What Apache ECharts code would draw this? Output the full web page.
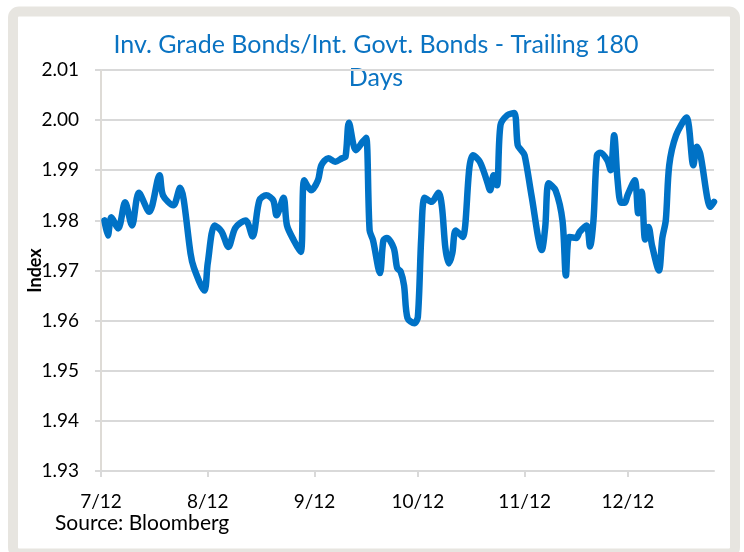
<!DOCTYPE html>
<html>
<head>
<meta charset="utf-8">
<title>Inv. Grade Bonds/Int. Govt. Bonds</title>
<script src="https://cdn.jsdelivr.net/npm/echarts@6/dist/echarts.min.js"></script>
<style>
  html, body { margin: 0; padding: 0; background: #ffffff; }
  #chart { width: 744px; height: 552px; }
</style>
</head>
<body>
<div id="chart"></div>
<script>
// Ratio of investment-grade bond index to intermediate government bond index
const dates = [
  '2012-07-02','2012-07-03','2012-07-04','2012-07-06','2012-07-08','2012-07-10','2012-07-12',
  '2012-07-15','2012-07-18','2012-07-19','2012-07-22','2012-07-24','2012-07-25','2012-07-27',
  '2012-07-28','2012-07-31','2012-08-01','2012-08-03','2012-08-05','2012-08-07','2012-08-09',
  '2012-08-12','2012-08-14','2012-08-16','2012-08-18','2012-08-20','2012-08-21','2012-08-23',
  '2012-08-24','2012-08-26','2012-08-28','2012-08-29','2012-08-31','2012-09-02','2012-09-03',
  '2012-09-05','2012-09-07','2012-09-09','2012-09-10','2012-09-11','2012-09-13','2012-09-15',
  '2012-09-16','2012-09-17','2012-09-18','2012-09-20','2012-09-21','2012-09-22','2012-09-24',
  '2012-09-25','2012-09-26','2012-09-27','2012-09-28','2012-09-30','2012-10-01','2012-10-02',
  '2012-10-03','2012-10-05','2012-10-07','2012-10-08','2012-10-09','2012-10-10','2012-10-11',
  '2012-10-12','2012-10-14','2012-10-16','2012-10-17','2012-10-19','2012-10-21','2012-10-22',
  '2012-10-23','2012-10-24','2012-10-25','2012-10-27','2012-10-29','2012-10-30','2012-10-31',
  '2012-11-01','2012-11-03','2012-11-06','2012-11-07','2012-11-08','2012-11-10','2012-11-12',
  '2012-11-13','2012-11-14','2012-11-16','2012-11-17','2012-11-19','2012-11-20','2012-11-21',
  '2012-11-22','2012-11-23','2012-11-25','2012-11-26','2012-11-27','2012-11-28','2012-11-29',
  '2012-11-30','2012-12-01','2012-12-03','2012-12-04','2012-12-05','2012-12-06','2012-12-07',
  '2012-12-08','2012-12-10','2012-12-11','2012-12-12','2012-12-13','2012-12-15','2012-12-18',
  '2012-12-20','2012-12-21','2012-12-22','2012-12-25','2012-12-26'
];
const ratio = [
  1.9800,1.9770,1.9806,1.9784,1.9836,1.9790,1.9855,
  1.9817,1.9890,1.9850,1.9830,1.9865,1.9842,1.9734,
  1.9705,1.9660,1.9715,1.9790,1.9778,1.9747,1.9785,
  1.9800,1.9768,1.9840,1.9850,1.9840,1.9810,1.9845,
  1.9790,1.9760,1.9737,1.9880,1.9860,1.9880,1.9910,
  1.9924,1.9917,1.9924,1.9927,1.9995,1.9940,1.9957,
  1.9965,1.9780,1.9760,1.9695,1.9760,1.9765,1.9745,
  1.9705,1.9698,1.9670,1.9605,1.9595,1.9607,1.9767,
  1.9845,1.9837,1.9855,1.9827,1.9745,1.9714,1.9734,
  1.9780,1.9767,1.9907,1.9930,1.9917,1.9880,1.9860,
  1.9890,1.9870,1.9990,2.0010,2.0014,1.9950,1.9940,
  1.9930,1.9850,1.9741,1.9787,1.9874,1.9860,1.9800,
  1.9690,1.9767,1.9765,1.9777,1.9790,1.9748,1.9800,
  1.9930,1.9935,1.9920,1.9900,1.9970,1.9880,1.9835,
  1.9835,1.9852,1.9880,1.9814,1.9857,1.9762,1.9787,
  1.9750,1.9700,1.9765,1.9800,1.9910,1.9970,2.0005,
  1.9910,1.9947,1.9933,1.9827,1.9837
];

// Month ticks on the date axis
const tickDates = ['2012-07-01','2012-08-01','2012-09-01','2012-10-01','2012-11-01','2012-12-01'];
const tickLabels = ['7/12','8/12','9/12','10/12','11/12','12/12'];
const xStart = '2012-07-01';
const xEnd = '2012-12-26';

// Value axis tick range
const yMin = 1.93;
const yMax = 2.01;
const yStep = 0.01;

const ts = s => Date.parse(s + 'T00:00:00Z');
const tickTs = tickDates.map(ts);
const labelFor = {};
tickTs.forEach((t, i) => { labelFor[t] = tickLabels[i]; });

const chart = echarts.init(document.getElementById('chart'), null, { renderer: 'canvas' });
const gridColor = '#d9d9d9';
const font = 'Lato, "Open Sans", sans-serif';

chart.setOption({
  animation: false,
  backgroundColor: '#ffffff',
  textStyle: { fontFamily: font },
  grid: { left: 101, right: 30, top: 70, bottom: 81, containLabel: false },
  xAxis: {
    type: 'value',
    min: ts(xStart),
    max: ts(xEnd),
    axisLine: { show: true, lineStyle: { color: gridColor, width: 2 } },
    axisTick: { show: true, length: 6, customValues: tickTs, lineStyle: { color: gridColor, width: 2 } },
    axisLabel: {
      customValues: tickTs,
      formatter: v => labelFor[v] || '',
      color: '#000000',
      fontSize: 19,
      fontFamily: font,
      margin: 21
    },
    splitLine: { show: false }
  },
  yAxis: {
    type: 'value',
    min: yMin,
    max: yMax,
    interval: yStep,
    name: 'Index',
    nameLocation: 'middle',
    nameGap: 57,
    nameMoveOverlap: false,
    nameTextStyle: { color: '#000000', fontSize: 18, fontWeight: 'bold', fontFamily: font },
    axisLine: { show: true, lineStyle: { color: '#dedbd6', width: 2 } },
    axisTick: { show: true, length: 6, lineStyle: { color: gridColor, width: 2 } },
    axisLabel: {
      formatter: v => v.toFixed(2),
      color: '#000000',
      fontSize: 19,
      fontFamily: font,
      margin: 22
    },
    splitLine: { show: true, lineStyle: { color: gridColor, width: 2 } }
  },
  series: [{
    type: 'line',
    data: dates.map((d, i) => [ts(d), ratio[i]]),
    showSymbol: false,
    smooth: 0.3,
    lineStyle: { color: '#0072c6', width: 6.5, cap: 'round', join: 'round' },
    itemStyle: { color: '#0072c6' },
    z: 3
  }],
  graphic: [
    {
      type: 'rect',
      silent: true,
      z: -10,
      shape: { x: 13, y: 11.5, width: 722, height: 542, r: 6 },
      style: { fill: 'none', stroke: '#e7e5e0', lineWidth: 10 }
    },
    {
      type: 'text',
      x: 376, y: 45,
      style: {
        text: 'Inv. Grade Bonds/Int. Govt. Bonds - Trailing 180',
        fill: '#0a73c2', fontSize: 25, fontFamily: font,
        textAlign: 'center', textVerticalAlign: 'middle'
      }
    },
    {
      type: 'text',
      x: 376, y: 78,
      style: {
        text: 'Days',
        fill: '#0a73c2', fontSize: 25, fontFamily: font,
        textAlign: 'center', textVerticalAlign: 'middle'
      }
    },
    {
      type: 'text',
      x: 55, y: 523,
      style: {
        text: 'Source: Bloomberg',
        fill: '#000000', fontSize: 21, fontFamily: font,
        textAlign: 'left', textVerticalAlign: 'middle'
      }
    }
  ]
});
</script>
</body>
</html>
